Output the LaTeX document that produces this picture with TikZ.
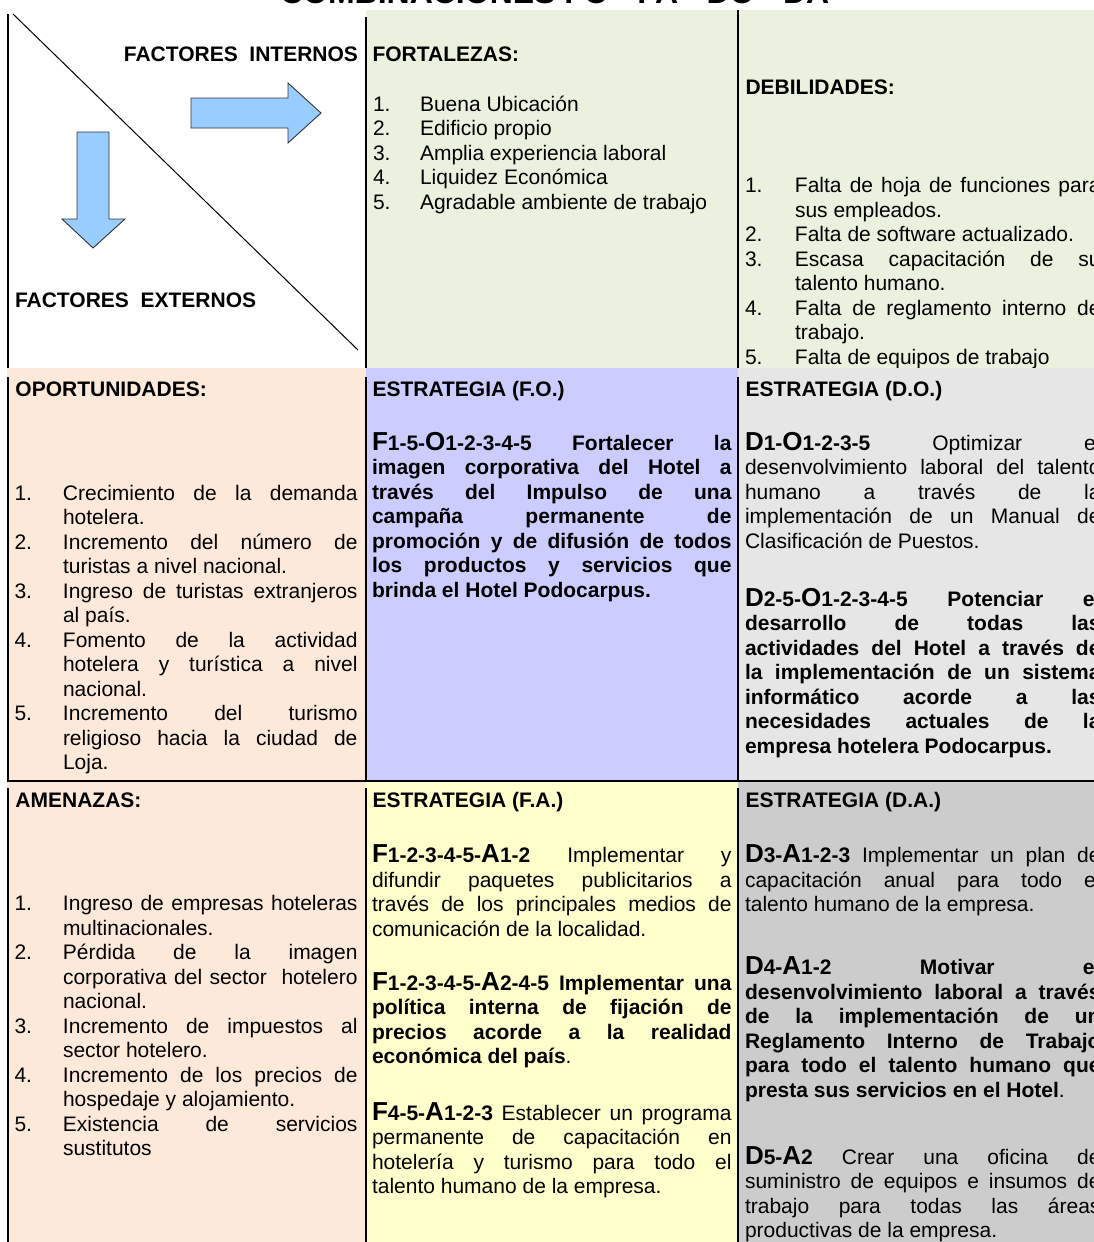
\documentclass[tikz,border=0pt]{standalone}
\usepackage{fontspec}
\setmainfont[Ligatures=NoCommon]{Liberation Sans}
\definecolor{grn}{HTML}{EBF1DE}
\definecolor{pnk}{HTML}{FDE9D9}
\definecolor{lav}{HTML}{CCCCFF}
\definecolor{lgr}{HTML}{E6E6E6}
\definecolor{yel}{HTML}{FFFFCC}
\definecolor{dgr}{HTML}{CCCCCC}
\definecolor{arrowblue}{HTML}{99CCFF}
\newlength\LW
\newlength\NW
\newcommand\Jl[1]{\hbox to \LW{#1}}
\newcommand\Nl[1]{\hbox{#1}}
\newcommand\Ji[2]{\hbox{\hbox to \NW{#1\hfil}\hbox to \LW{#2}}}
\newcommand\Ni[2]{\hbox{\hbox to \NW{#1\hfil}#2}}
\newcommand\cd[2]{{\fontsize{26}{24.5}\selectfont\bfseries #1}{\bfseries #2}}
\newcommand\blk[3]{\vtop{\setlength\LW{#1}\setlength\NW{#2}\fontsize{21}{24.5}\selectfont #3}}
\tikzset{
  txt/.style={inner sep=0pt, outer sep=0pt, anchor=base west, font=\fontsize{21}{24.5}\selectfont},
  grid/.style={line width=1.3pt, black},
  arr/.style={fill=arrowblue, draw=black!80, line width=0.9pt, line join=miter},
}
\begin{document}
\begin{tikzpicture}[x=1pt,y=-1pt]
\useasboundingbox (0,0) rectangle (1094,1242);
\clip (0,0) rectangle (1094,1242);
% ---------- row 1 ----------
\fill[grn] (366,10) rectangle (1094,368);
\node[txt] (title) at (280,3) {\fontsize{32}{36}\selectfont\bfseries COMBINACIONES FO - FA - DO - DA};
\draw[line width=1pt] (13,14) -- (358,350);
\draw[arr] (191,98) -- (288,98) -- (288,83) -- (321,113) -- (288,143) -- (288,128) -- (191,128) -- cycle;
\draw[arr] (77,132) -- (109,132) -- (109,219) -- (125,219) -- (93,248) -- (62,219) -- (77,219) -- cycle;
\draw[grid] (8,14) -- (8,368) (366,17) -- (366,368) (738,10) -- (738,368);
\node[txt, anchor=base east] (fint) at (358,61) {\bfseries FACTORES\ \ INTERNOS};
\node[txt] (fext) at (15,307) {\bfseries FACTORES\ \ EXTERNOS};
\node[txt] (fort) at (372.5,61) {\bfseries FORTALEZAS:};
\node[txt] (fortL) at (373,111) {\blk{300pt}{47pt}{
  \Ni{1.}{Buena Ubicación}
  \Ni{2.}{Edificio propio}
  \Ni{3.}{Amplia experiencia laboral}
  \Ni{4.}{Liquidez Económica}
  \Ni{5.}{Agradable ambiente de trabajo}}};
\node[txt] (deb) at (745.5,94) {\bfseries DEBILIDADES:};
\node[txt] (debL) at (745,192.5) {\blk{305.5pt}{50pt}{
  \Ji{1.}{Falta de hoja de funciones para}
  \Ni{}{sus empleados.}
  \Ni{2.}{Falta de software actualizado.}
  \Ji{3.}{Escasa capacitación de su}
  \Ni{}{talento humano.}
  \Ji{4.}{Falta de reglamento interno de}
  \Ni{}{trabajo.}
  \Ni{5.}{Falta de equipos de trabajo}}};
% ---------- row 2 ----------
\fill[pnk] (7,367.5) rectangle (366,781);
\fill[lav] (366,367.5) rectangle (738,781);
\fill[lgr] (738,367.5) rectangle (1094,781);
\draw[grid] (8,377) -- (8,781) (366,377) -- (366,781) (738,377) -- (738,781);
\node[txt] (opo) at (15.5,396) {\bfseries OPORTUNIDADES:};
\node[txt] (opoL) at (14.5,500) {\blk{294.5pt}{48.5pt}{
  \Ji{1.}{Crecimiento de la demanda}
  \Ni{}{hotelera.}
  \Ji{2.}{Incremento del número de}
  \Ni{}{turistas a nivel nacional.}
  \Ji{3.}{Ingreso de turistas extranjeros}
  \Ni{}{al país.}
  \Ji{4.}{Fomento de la actividad}
  \Ji{}{hotelera y turística a nivel}
  \Ni{}{nacional.}
  \Ji{5.}{Incremento del turismo}
  \Ji{}{religioso hacia la ciudad de}
  \Ni{}{Loja.}}};
\node[txt] (fo) at (372.5,396) {\bfseries ESTRATEGIA (F.O.)};
\node[txt] (foP) at (372,450) {\blk{359.5pt}{0pt}{\bfseries
  \Jl{\cd{F}{1-5-}\cd{O}{1-2-3-4-5} Fortalecer la}
  \Jl{imagen corporativa del Hotel a}
  \Jl{través del Impulso de una}
  \Jl{campaña permanente de}
  \Jl{promoción y de difusión de todos}
  \Jl{los productos y servicios que}
  \Nl{brinda el Hotel Podocarpus.}}};
\node[txt] (do) at (745.5,396) {\bfseries ESTRATEGIA (D.O.)};
\node[txt] (doP1) at (745,450) {\blk{355.5pt}{0pt}{
  \Jl{\cd{D}{1-}\cd{O}{1-2-3-5} Optimizar el}
  \Jl{desenvolvimiento laboral del talento}
  \Jl{humano a través de la}
  \Jl{implementación de un Manual de}
  \Nl{Clasificación de Puestos.}}};
\node[txt] (doP2) at (745,606) {\blk{355.5pt}{0pt}{\bfseries
  \Jl{\cd{D}{2-5-}\cd{O}{1-2-3-4-5} Potenciar el}
  \Jl{desarrollo de todas las}
  \Jl{actividades del Hotel a través de}
  \Jl{la implementación de un sistema}
  \Jl{informático acorde a las}
  \Jl{necesidades actuales de la}
  \Nl{empresa hotelera Podocarpus.}}};
% ---------- row 3 ----------
\fill[pnk] (7,781) rectangle (366,1242);
\fill[yel] (366,781) rectangle (738,1242);
\fill[dgr] (738,781) rectangle (1094,1242);
\draw[grid] (7.35,781) -- (1094,781);
\draw[grid] (8,788) -- (8,1242) (366,788) -- (366,1242) (738,788) -- (738,1242);
\node[txt] (ame) at (15.5,807) {\bfseries AMENAZAS:};
\node[txt] (ameL) at (14.5,910.5) {\blk{294.5pt}{48.5pt}{
  \Ji{1.}{Ingreso de empresas hoteleras}
  \Ni{}{multinacionales.}
  \Ji{2.}{Pérdida de la imagen}
  \Ji{}{corporativa del sector\ \ hotelero}
  \Ni{}{nacional.}
  \Ji{3.}{Incremento de impuestos al}
  \Ni{}{sector hotelero.}
  \Ji{4.}{Incremento de los precios de}
  \Ni{}{hospedaje y alojamiento.}
  \Ji{5.}{Existencia de servicios}
  \Ni{}{sustitutos}}};
\node[txt] (fa) at (372.5,807) {\bfseries ESTRATEGIA (F.A.)};
\node[txt] (faP1) at (372,862.5) {\blk{359.5pt}{0pt}{
  \Jl{\cd{F}{1-2-3-4-5-}\cd{A}{1-2} Implementar y}
  \Jl{difundir paquetes publicitarios a}
  \Jl{través de los principales medios de}
  \Nl{comunicación de la localidad.}}};
\node[txt] (faP2) at (372,990) {\blk{359.5pt}{0pt}{\bfseries
  \Jl{\cd{F}{1-2-3-4-5-}\cd{A}{2-4-5} Implementar una}
  \Jl{política interna de fijación de}
  \Jl{precios acorde a la realidad}
  \Nl{económica del país{\mdseries .}}}};
\node[txt] (faP3) at (372,1120) {\blk{359.5pt}{0pt}{
  \Jl{\cd{F}{4-5-}\cd{A}{1-2-3} Establecer un programa}
  \Jl{permanente de capacitación en}
  \Jl{hotelería y turismo para todo el}
  \Nl{talento humano de la empresa.}}};
\node[txt] (da) at (745.5,807) {\bfseries ESTRATEGIA (D.A.)};
\node[txt] (daP1) at (745,862.5) {\blk{355.5pt}{0pt}{
  \Jl{\cd{D}{3-}\cd{A}{1-2-3} Implementar un plan de}
  \Jl{capacitación anual para todo el}
  \Nl{talento humano de la empresa.}}};
\node[txt] (daP2) at (745,974.5) {\blk{355.5pt}{0pt}{\bfseries
  \Jl{\cd{D}{4-}\cd{A}{1-2} Motivar el}
  \Jl{desenvolvimiento laboral a través}
  \Jl{de la implementación de un}
  \Jl{Reglamento Interno de Trabajo}
  \Jl{para todo el talento humano que}
  \Nl{presta sus servicios en el Hotel{\mdseries .}}}};
\node[txt] (daP3) at (745,1164) {\blk{355.5pt}{0pt}{
  \Jl{\cd{D}{5-}\cd{A}{2} Crear una oficina de}
  \Jl{suministro de equipos e insumos de}
  \Jl{trabajo para todas las áreas}
  \Nl{productivas de la empresa.}}};
\end{tikzpicture}
\end{document}
